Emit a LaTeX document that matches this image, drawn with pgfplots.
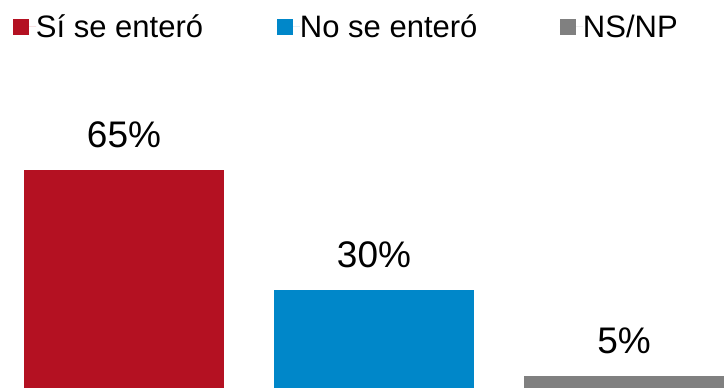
\documentclass[border=0pt]{standalone}
\usepackage{pgfplots}
\pgfplotsset{compat=1.18}
\usepackage{fontspec}
\setmainfont{Liberation Sans}
\definecolor{cred}{RGB}{180,17,34}
\definecolor{cblue}{RGB}{0,135,201}
\definecolor{cgray}{RGB}{128,128,128}
\begin{document}
\begin{tikzpicture}
\begin{axis}[
  at={(0pt,0pt)}, anchor=south west,
  scale only axis,
  width=724pt, height=388pt,
  xmin=-0.496, xmax=2.4,
  ymin=1.42, ymax=114.5,
  axis lines=none,
  ticks=none,
  clip=true,
  /pgf/number format/assume math mode=true,
  ybar, bar shift=0pt, bar width=0.8,
  nodes near coords={\pgfmathprintnumber{\pgfplotspointmeta}\%},
  every node near coord/.append style={font=\fontsize{37}{40}\selectfont, anchor=base, yshift=22pt, text=black},
  legend columns=3,
  legend style={draw=none, fill=none, at={(rel axis cs:0,1)}, anchor=north west, xshift=13pt, yshift=-16pt,
    inner sep=0pt, outer sep=0pt,
    nodes={inner sep=0pt, outer sep=0pt, font=\fontsize{31}{34}\selectfont, text height=22pt, text depth=0pt},
    /tikz/every even column/.append style={column sep=0pt},
    /tikz/every odd column/.append style={column sep=0pt}},
  legend image code/.code={\fill (0pt,-8pt) rectangle (16pt,8pt); \path (0pt,0pt) -- (23pt,0pt);},
]
\addplot[fill=cred, draw=none] coordinates {(0,65)};
\addlegendentry{\makebox[241pt][l]{Sí se enteró}}
\addplot[fill=cblue, draw=none] coordinates {(1,30)};
\addlegendentry{\makebox[260pt][l]{No se enteró}}
\addplot[fill=cgray, draw=none] coordinates {(2,5)};
\addlegendentry{NS/NP}
\end{axis}
\pgfresetboundingbox
\path[use as bounding box] (0pt,0pt) rectangle (724pt,388pt);
\end{tikzpicture}
\end{document}
